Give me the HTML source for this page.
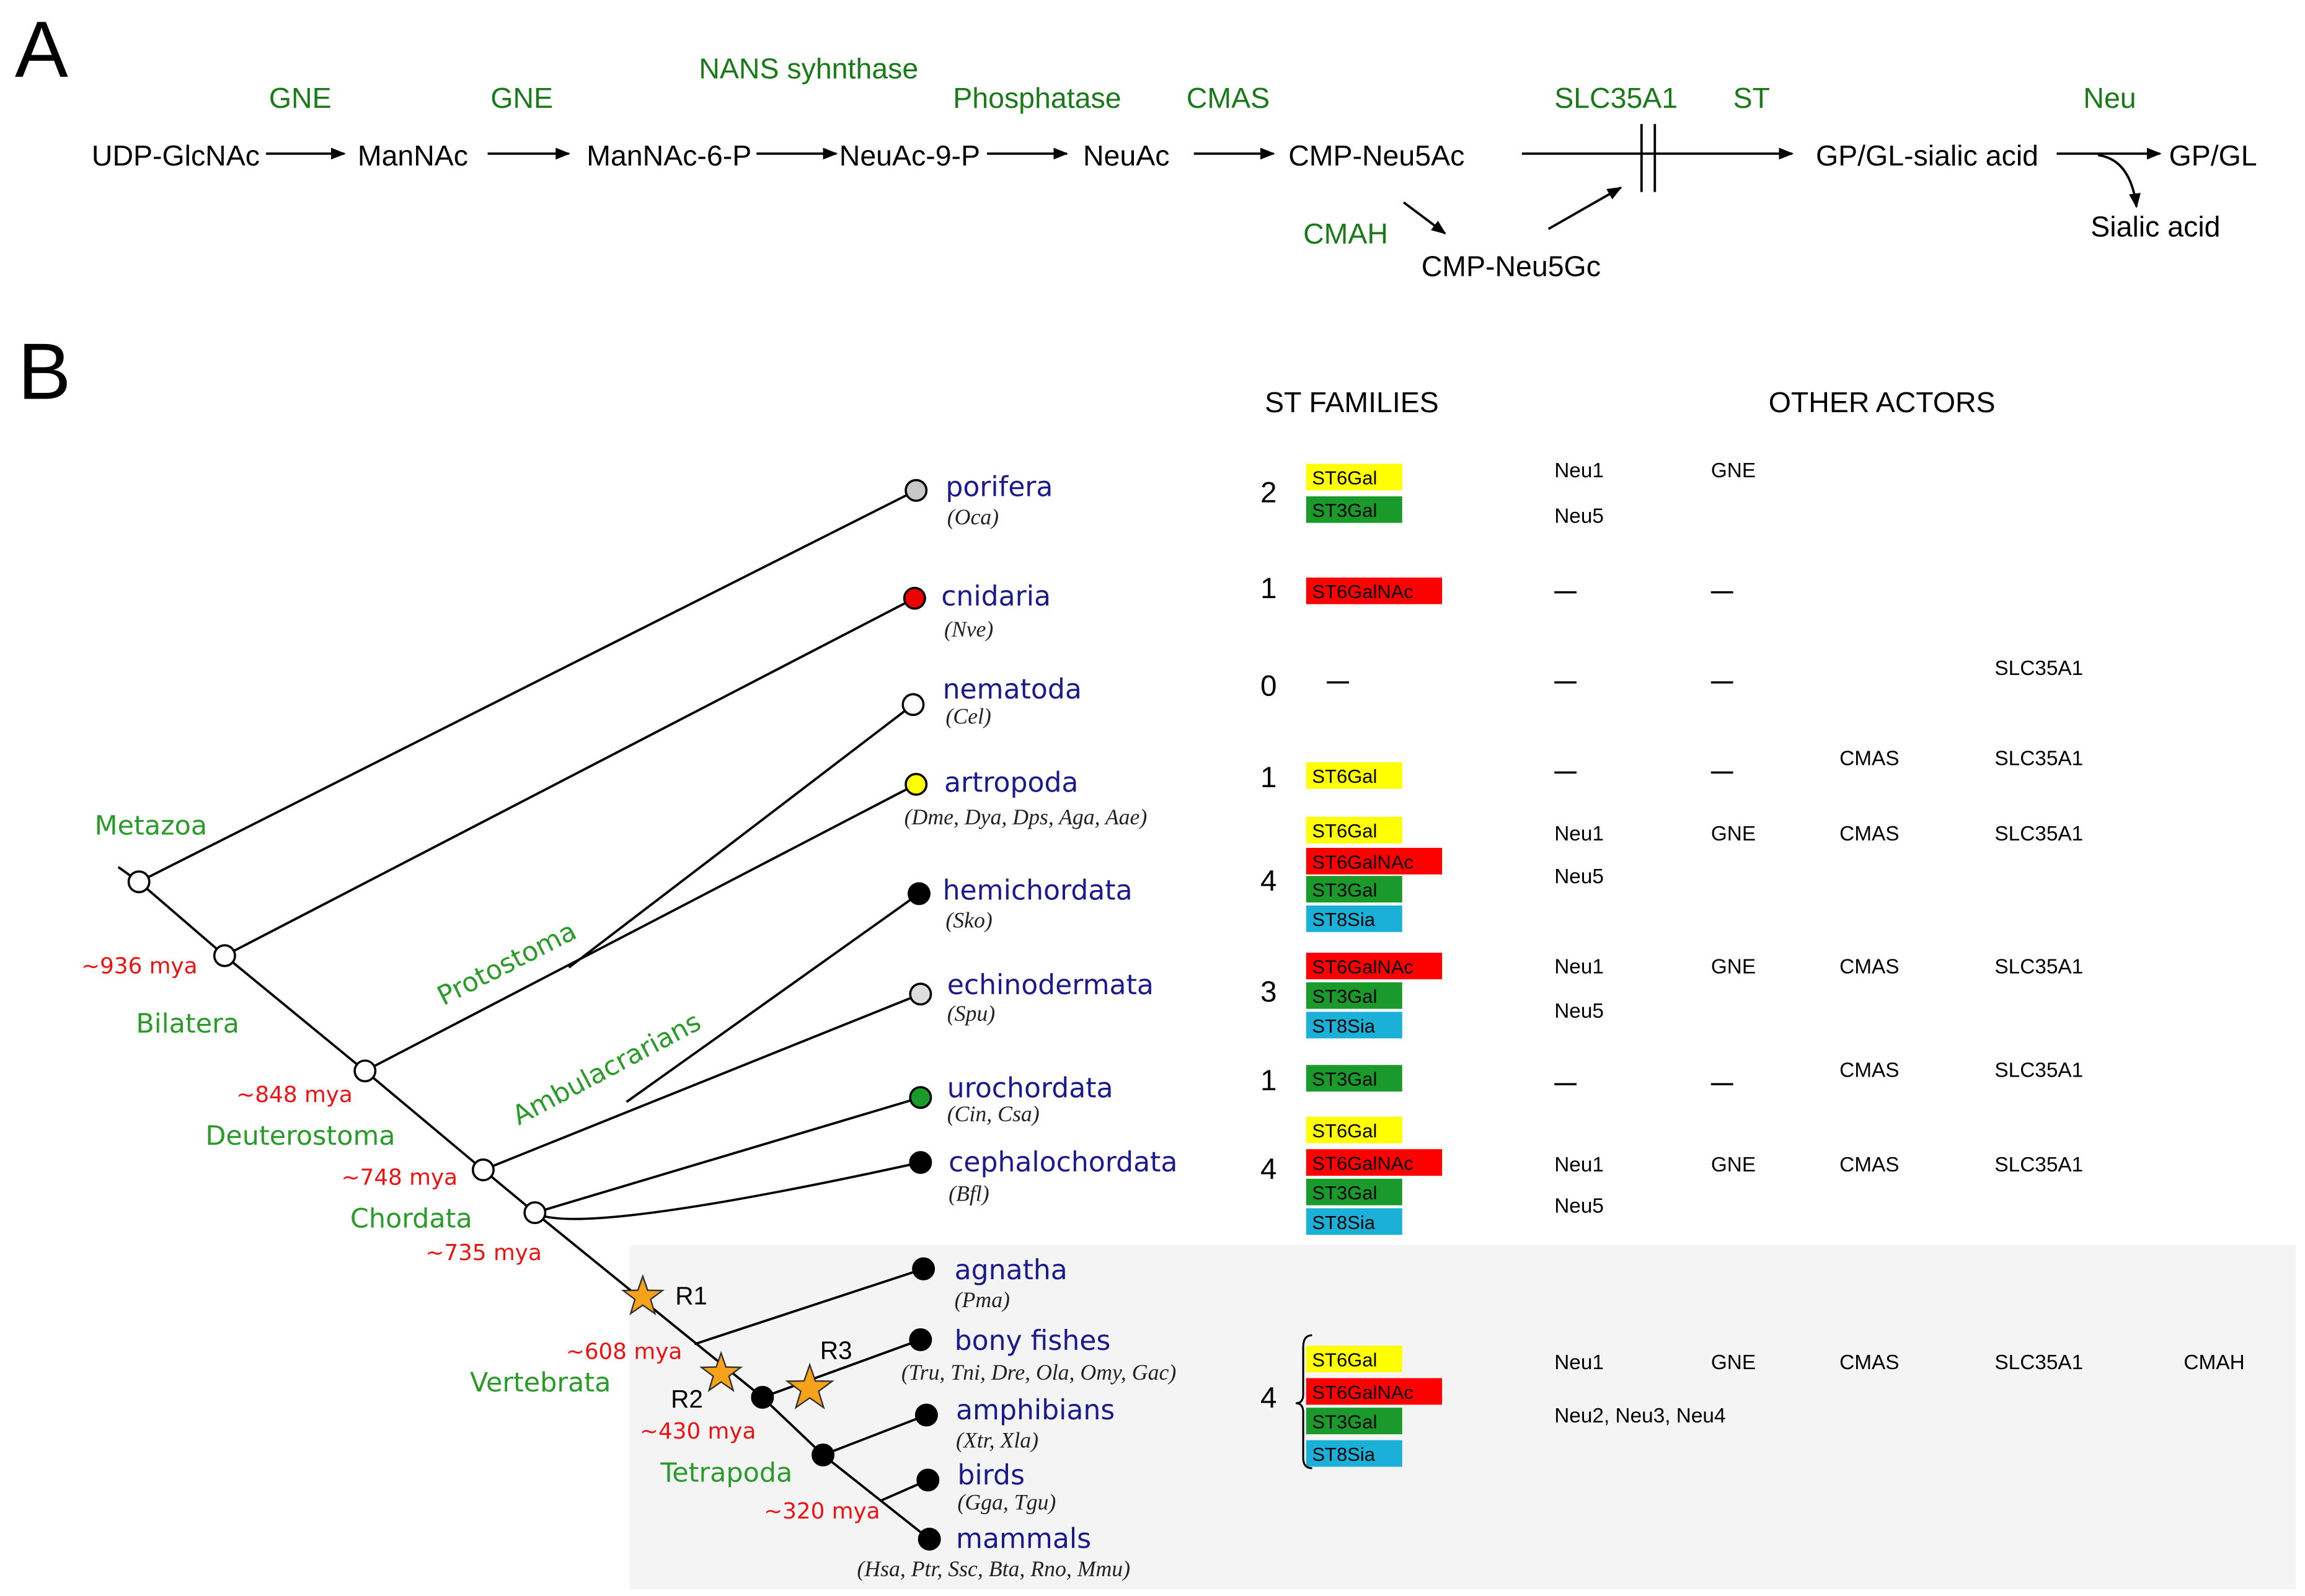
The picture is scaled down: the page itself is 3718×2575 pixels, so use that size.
<!DOCTYPE html>
<html><head><meta charset="utf-8">
<style>
html,body{margin:0;padding:0;background:#fff;}
svg{display:block;}
.t{font-family:"Liberation Sans",sans-serif;font-size:19.5px;fill:#000;}
.g{font-family:"Liberation Sans",sans-serif;font-size:19.5px;fill:#1a7a1a;}
.cg{font-family:"DejaVu Sans",sans-serif;font-size:18px;fill:#2a9a2a;}
.red{font-family:"DejaVu Sans",sans-serif;font-size:15px;fill:#ee1111;}
.tax{font-family:"DejaVu Sans",sans-serif;font-size:18.5px;fill:#1a1a8a;}
.sp{font-family:"Liberation Serif",serif;font-style:italic;font-size:15px;fill:#222;}
.oa{font-family:"Liberation Sans",sans-serif;font-size:14px;fill:#000;}
.bx{font-family:"Liberation Sans",sans-serif;font-size:13px;fill:#000;}
.ln{stroke:#000;stroke-width:1.6;fill:none;}
</style></head>
<body>
<svg width="3718" height="2575" viewBox="0 0 1560 1080.5" xmlns="http://www.w3.org/2000/svg">
<defs><marker id="ah" markerWidth="10" markerHeight="8" refX="9" refY="4" orient="auto" markerUnits="userSpaceOnUse"><path d="M0,0 L10,4 L0,8 z" fill="#000"/></marker></defs>
<rect width="1560" height="1081" fill="#fff"/>

<g>
<text x="10" y="52" font-family="Liberation Sans" font-size="54">A</text>
<g>
<text class="t" x="62" y="112">UDP-GlcNAc</text>
<text class="t" x="242" y="112">ManNAc</text>
<text class="t" x="397" y="112">ManNAc-6-P</text>
<text class="t" x="568" y="112">NeuAc-9-P</text>
<text class="t" x="733" y="112">NeuAc</text>
<text class="t" x="872" y="112">CMP-Neu5Ac</text>
<text class="t" x="1229" y="112">GP/GL-sialic acid</text>
<text class="t" x="1468" y="112">GP/GL</text>
<text class="t" x="1415" y="160">Sialic acid</text>
<text class="t" x="962" y="187">CMP-Neu5Gc</text>
</g>
<g>
<text class="g" x="182" y="73">GNE</text>
<text class="g" x="332" y="73">GNE</text>
<text class="g" x="473" y="53">NANS syhnthase</text>
<text class="g" x="645" y="73">Phosphatase</text>
<text class="g" x="803" y="73">CMAS</text>
<text class="g" x="1052" y="73">SLC35A1</text>
<text class="g" x="1173" y="73">ST</text>
<text class="g" x="1410" y="73">Neu</text>
<text class="g" x="882" y="165">CMAH</text>
</g>
<g>
<line class="ln" x1="180" y1="104" x2="233" y2="104" marker-end="url(#ah)"/>
<line class="ln" x1="330" y1="104" x2="385" y2="104" marker-end="url(#ah)"/>
<line class="ln" x1="512" y1="104" x2="566" y2="104" marker-end="url(#ah)"/>
<line class="ln" x1="668" y1="104" x2="722" y2="104" marker-end="url(#ah)"/>
<line class="ln" x1="808" y1="104" x2="862" y2="104" marker-end="url(#ah)"/>
<line class="ln" x1="1030" y1="104" x2="1213" y2="104" marker-end="url(#ah)"/>
<line class="ln" x1="1111" y1="84" x2="1111" y2="130"/>
<line class="ln" x1="1120" y1="84" x2="1120" y2="130"/>
<line class="ln" x1="1392" y1="104" x2="1462" y2="104" marker-end="url(#ah)"/>
<path class="ln" d="M1420,105 Q1442,108 1446,140" marker-end="url(#ah)"/>
<line class="ln" x1="950" y1="137" x2="978" y2="158" marker-end="url(#ah)"/>
<line class="ln" x1="1048" y1="155" x2="1097" y2="127" marker-end="url(#ah)"/>
</g>
</g>

<g>
<text x="12" y="270" font-family="Liberation Sans" font-size="54">B</text>
<rect x="426" y="843" width="1128" height="233" fill="#f4f4f4"/>
<text class="t" x="856" y="279">ST FAMILIES</text>
<text class="t" x="1197" y="279">OTHER ACTORS</text>

<g>
<polyline class="ln" points="80,587 94,597 152,647 247,725 327,792 362,821 516,946 557,985 629,1042"/>
<line class="ln" x1="94" y1="597" x2="620" y2="332"/>
<line class="ln" x1="152" y1="647" x2="619" y2="405"/>
<line class="ln" x1="247" y1="725" x2="620" y2="531"/>
<line class="ln" x1="385" y1="655" x2="618" y2="477"/>
<line class="ln" x1="327" y1="792" x2="623" y2="673"/>
<line class="ln" x1="424" y1="746" x2="622" y2="605"/>
<line class="ln" x1="362" y1="821" x2="623" y2="743"/>
<path class="ln" d="M362,821 Q390,838 623,787"/>
<line class="ln" x1="470" y1="910" x2="625" y2="859"/>
<line class="ln" x1="516" y1="946" x2="623" y2="907"/>
<line class="ln" x1="557" y1="985" x2="627" y2="958"/>
<line class="ln" x1="596" y1="1016" x2="628" y2="1002"/>
<g stroke="#000" stroke-width="1.5">
<circle cx="94" cy="597" r="7" fill="#fff"/>
<circle cx="152" cy="647" r="7" fill="#fff"/>
<circle cx="247" cy="725" r="7" fill="#fff"/>
<circle cx="327" cy="792" r="7" fill="#fff"/>
<circle cx="362" cy="821" r="7" fill="#fff"/>
<circle cx="516" cy="946" r="7" fill="#000"/>
<circle cx="557" cy="985" r="7" fill="#000"/>
<circle cx="620" cy="332" r="7" fill="#c8c8c8"/>
<circle cx="619" cy="405" r="7" fill="#ee0000"/>
<circle cx="618" cy="477" r="7" fill="#fff"/>
<circle cx="620" cy="531" r="7" fill="#ffff00"/>
<circle cx="622" cy="605" r="7" fill="#000"/>
<circle cx="623" cy="673" r="7" fill="#ddd"/>
<circle cx="623" cy="743" r="7" fill="#1a9a2a"/>
<circle cx="623" cy="787" r="7" fill="#000"/>
<circle cx="625" cy="859" r="7" fill="#000"/>
<circle cx="623" cy="907" r="7" fill="#000"/>
<circle cx="627" cy="958" r="7" fill="#000"/>
<circle cx="628" cy="1002" r="7" fill="#000"/>
<circle cx="629" cy="1042" r="7" fill="#000"/>
</g>
<g fill="#f7a21b" stroke="#333" stroke-width="1">
<path transform="translate(435,878)" d="M0,-14 L3.3,-4.5 L13.3,-4.3 L5.3,1.7 L8.2,11.3 L0,5.6 L-8.2,11.3 L-5.3,1.7 L-13.3,-4.3 L-3.3,-4.5 z"/>
<path transform="translate(488,930)" d="M0,-14 L3.3,-4.5 L13.3,-4.3 L5.3,1.7 L8.2,11.3 L0,5.6 L-8.2,11.3 L-5.3,1.7 L-13.3,-4.3 L-3.3,-4.5 z"/>
<path transform="translate(548,940)" d="M0,-16 L3.8,-5.1 L15.2,-4.9 L6,1.9 L9.4,12.9 L0,6.4 L-9.4,12.9 L-6,1.9 L-15.2,-4.9 L-3.8,-5.1 z"/>
</g>
<g font-family="Liberation Sans" font-size="17">
<text x="457" y="883">R1</text><text x="454" y="953">R2</text><text x="555" y="920">R3</text>
</g>
</g>

<g>
<text class="cg" x="64" y="565">Metazoa</text>
<text class="cg" x="92" y="699">Bilatera</text>
<text class="cg" x="139" y="775">Deuterostoma</text>
<text class="cg" x="237" y="831">Chordata</text>
<text class="cg" x="318" y="942">Vertebrata</text>
<text class="cg" x="447" y="1003">Tetrapoda</text>
<text class="cg" transform="translate(300,681) rotate(-27)">Protostoma</text>
<text class="cg" transform="translate(351,762) rotate(-28)">Ambulacrarians</text>
</g>
<g>
<text class="red" x="55" y="659">~936 mya</text>
<text class="red" x="160" y="746">~848 mya</text>
<text class="red" x="231" y="802">~748 mya</text>
<text class="red" x="288" y="853">~735 mya</text>
<text class="red" x="383" y="920">~608 mya</text>
<text class="red" x="433" y="974">~430 mya</text>
<text class="red" x="517" y="1028">~320 mya</text>
</g>
<g>
<text class="tax" x="640" y="336">porifera</text><text class="sp" x="641" y="355">(Oca)</text>
<text class="tax" x="637" y="410">cnidaria</text><text class="sp" x="639" y="431">(Nve)</text>
<text class="tax" x="638" y="473">nematoda</text><text class="sp" x="640" y="490">(Cel)</text>
<text class="tax" x="639" y="536">artropoda</text><text class="sp" x="612" y="558">(Dme, Dya, Dps, Aga, Aae)</text>
<text class="tax" x="638" y="609">hemichordata</text><text class="sp" x="640" y="628">(Sko)</text>
<text class="tax" x="641" y="673">echinodermata</text><text class="sp" x="641" y="691">(Spu)</text>
<text class="tax" x="641" y="743">urochordata</text><text class="sp" x="641" y="759">(Cin, Csa)</text>
<text class="tax" x="642" y="793">cephalochordata</text><text class="sp" x="642" y="813">(Bfl)</text>
<text class="tax" x="646" y="866">agnatha</text><text class="sp" x="646" y="885">(Pma)</text>
<text class="tax" x="646" y="914">bony fishes</text><text class="sp" x="610" y="934">(Tru, Tni, Dre, Ola, Omy, Gac)</text>
<text class="tax" x="647" y="961">amphibians</text><text class="sp" x="647" y="980">(Xtr, Xla)</text>
<text class="tax" x="648" y="1005">birds</text><text class="sp" x="648" y="1022">(Gga, Tgu)</text>
<text class="tax" x="647" y="1048">mammals</text><text class="sp" x="580" y="1067">(Hsa, Ptr, Ssc, Bta, Rno, Mmu)</text>
</g>

<g font-family="Liberation Sans" font-size="20">
<text x="853" y="340">2</text><text x="853" y="405">1</text><text x="853" y="471">0</text>
<text x="853" y="533">1</text><text x="853" y="603">4</text><text x="853" y="678">3</text>
<text x="853" y="738">1</text><text x="853" y="798">4</text><text x="853" y="953">4</text>
</g>
<g>
<g>
<rect x="884" y="314" width="65" height="18" fill="#ffff00"/><text class="bx" x="888" y="328">ST6Gal</text>
<rect x="884" y="336" width="65" height="18" fill="#1a9a2a"/><text class="bx" x="888" y="350">ST3Gal</text>
</g>
<g>
<rect x="884" y="391" width="92" height="18" fill="#ff0000"/><text class="bx" x="888" y="405">ST6GalNAc</text>
</g>
<line x1="898" y1="462" x2="913" y2="462" stroke="#000" stroke-width="1.5"/>
<g>
<rect x="884" y="516" width="65" height="18" fill="#ffff00"/><text class="bx" x="888" y="530">ST6Gal</text>
</g>
<g>
<rect x="884" y="553" width="65" height="18" fill="#ffff00"/><text class="bx" x="888" y="567">ST6Gal</text>
<rect x="884" y="574" width="92" height="18" fill="#ff0000"/><text class="bx" x="888" y="588">ST6GalNAc</text>
<rect x="884" y="593" width="65" height="18" fill="#1a9a2a"/><text class="bx" x="888" y="607">ST3Gal</text>
<rect x="884" y="613" width="65" height="18" fill="#1ab0d8"/><text class="bx" x="888" y="627">ST8Sia</text>
</g>
<g>
<rect x="884" y="645" width="92" height="18" fill="#ff0000"/><text class="bx" x="888" y="659">ST6GalNAc</text>
<rect x="884" y="665" width="65" height="18" fill="#1a9a2a"/><text class="bx" x="888" y="679">ST3Gal</text>
<rect x="884" y="685" width="65" height="18" fill="#1ab0d8"/><text class="bx" x="888" y="699">ST8Sia</text>
</g>
<g>
<rect x="884" y="721" width="65" height="18" fill="#1a9a2a"/><text class="bx" x="888" y="735">ST3Gal</text>
</g>
<g>
<rect x="884" y="756" width="65" height="18" fill="#ffff00"/><text class="bx" x="888" y="770">ST6Gal</text>
<rect x="884" y="778" width="92" height="18" fill="#ff0000"/><text class="bx" x="888" y="792">ST6GalNAc</text>
<rect x="884" y="798" width="65" height="18" fill="#1a9a2a"/><text class="bx" x="888" y="812">ST3Gal</text>
<rect x="884" y="818" width="65" height="18" fill="#1ab0d8"/><text class="bx" x="888" y="832">ST8Sia</text>
</g>
<g>
<rect x="884" y="911" width="65" height="18" fill="#ffff00"/><text class="bx" x="888" y="925">ST6Gal</text>
<rect x="884" y="933" width="92" height="18" fill="#ff0000"/><text class="bx" x="888" y="947">ST6GalNAc</text>
<rect x="884" y="953" width="65" height="18" fill="#1a9a2a"/><text class="bx" x="888" y="967">ST3Gal</text>
<rect x="884" y="975" width="65" height="18" fill="#1ab0d8"/><text class="bx" x="888" y="989">ST8Sia</text>
<path d="M888,904 Q882,904 882,912 L882,944 Q882,950 877,950 Q882,950 882,956 L882,987 Q882,994 888,994" fill="none" stroke="#000" stroke-width="1.3"/>
</g>
</g>

<g>
<text class="oa" x="1052" y="323">Neu1</text><text class="oa" x="1158" y="323">GNE</text>
<text class="oa" x="1052" y="354">Neu5</text>
<text class="oa" x="1350" y="457">SLC35A1</text>
<text class="oa" x="1245" y="518">CMAS</text><text class="oa" x="1350" y="518">SLC35A1</text>
<text class="oa" x="1052" y="569">Neu1</text><text class="oa" x="1158" y="569">GNE</text><text class="oa" x="1245" y="569">CMAS</text><text class="oa" x="1350" y="569">SLC35A1</text>
<text class="oa" x="1052" y="598">Neu5</text>
<text class="oa" x="1052" y="659">Neu1</text><text class="oa" x="1158" y="659">GNE</text><text class="oa" x="1245" y="659">CMAS</text><text class="oa" x="1350" y="659">SLC35A1</text>
<text class="oa" x="1052" y="689">Neu5</text>
<text class="oa" x="1245" y="729">CMAS</text><text class="oa" x="1350" y="729">SLC35A1</text>
<text class="oa" x="1052" y="793">Neu1</text><text class="oa" x="1158" y="793">GNE</text><text class="oa" x="1245" y="793">CMAS</text><text class="oa" x="1350" y="793">SLC35A1</text>
<text class="oa" x="1052" y="821">Neu5</text>
<text class="oa" x="1052" y="927">Neu1</text><text class="oa" x="1158" y="927">GNE</text><text class="oa" x="1245" y="927">CMAS</text><text class="oa" x="1350" y="927">SLC35A1</text><text class="oa" x="1478" y="927">CMAH</text>
<text class="oa" x="1052" y="963">Neu2, Neu3, Neu4</text>
<g stroke="#000" stroke-width="1.5">
<line x1="1052" y1="401" x2="1067" y2="401"/><line x1="1158" y1="401" x2="1173" y2="401"/>
<line x1="1052" y1="462" x2="1067" y2="462"/><line x1="1158" y1="462" x2="1173" y2="462"/>
<line x1="1052" y1="523" x2="1067" y2="523"/><line x1="1158" y1="523" x2="1173" y2="523"/>
<line x1="1052" y1="734" x2="1067" y2="734"/><line x1="1158" y1="734" x2="1173" y2="734"/>
</g>
</g>
</g>
</svg>
</body></html>
